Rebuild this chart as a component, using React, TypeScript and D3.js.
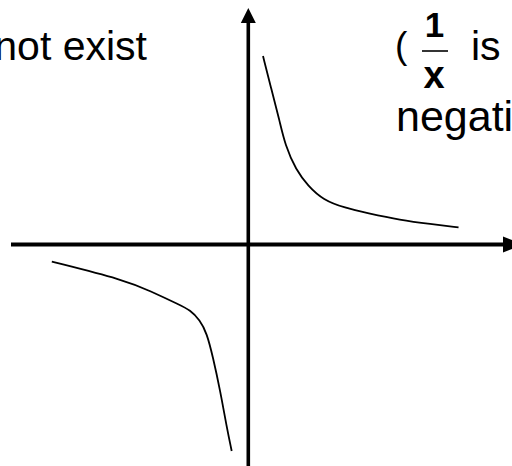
import React from "react";
import * as d3 from "d3";

// Curve samples (axis units)
const rightX = [0.62, 0.96, 1.31, 1.55, 2.01, 2.52, 3.15, 4.08, 5.0, 6.41, 7.67, 8.86];
const rightY = [7.94, 6.59, 5.25, 4.19, 3.14, 2.47, 1.88, 1.54, 1.33, 1.03, 0.86, 0.72];
const leftX = [-8.28, -5.2, -4.14, -2.88, -2.46, -2.04, -1.75, -1.49, -1.19, -0.91, -0.7];
const leftY = [-0.72, -1.5, -1.96, -2.55, -2.76, -3.18, -3.73, -4.74, -6.13, -7.69, -8.7];

const W = 512;
const H = 466;

export default function App() {
  const x = d3.scaleLinear().domain([-10, 10]).range([11, 485.6]);
  const y = d3.scaleLinear().domain([-10, 10]).range([481.8, 7.2]);
  const line = d3
    .line<[number, number]>()
    .x((d) => x(d[0]))
    .y((d) => y(d[1]))
    .curve(d3.curveBasis);
  const right = rightX.map((v, i) => [v, rightY[i]] as [number, number]);
  const left = leftX.map((v, i) => [v, leftY[i]] as [number, number]);
  const x0 = x(0);
  const y0 = y(0);
  const font = "'Liberation Sans', Arial, sans-serif";
  return (
    <svg
      width={W}
      height={H}
      style={{ position: "absolute", left: 0, top: 0, background: "#fff" }}
    >
      {/* horizontal axis */}
      <line x1={x(-10)} x2={504} y1={y0} y2={y0} stroke="#000" strokeWidth={4} />
      <polygon points={`503,${y0 - 8} 523,${y0} 503,${y0 + 8}`} fill="#000" />
      {/* vertical axis */}
      <line x1={x0} x2={x0} y1={22} y2={H} stroke="#000" strokeWidth={3.6} />
      <polygon points={`${x0 - 7.5},23 ${x0},8 ${x0 + 7.5},23`} fill="#000" />
      {/* curves */}
      <path d={line(right) || ""} fill="none" stroke="#000" strokeWidth={1.8} />
      <path d={line(left) || ""} fill="none" stroke="#000" strokeWidth={1.8} />
      {/* texts */}
      <text x={147} y={60} fontFamily={font} fontSize={41} textAnchor="end" fill="#000">
        not exist
      </text>
      <text x={395} y={58} fontFamily={font} fontSize={37} fill="#000">
        (
      </text>
      <text x={434.5} y={37} fontFamily={font} fontSize={35} fontWeight="bold" textAnchor="middle" fill="#000">
        1
      </text>
      <line x1={422} x2={448} y1={51} y2={51} stroke="#000" strokeWidth={1.6} />
      <text x={434} y={88} fontFamily={font} fontSize={38} fontWeight="bold" textAnchor="middle" fill="#000">
        x
      </text>
      <text x={471} y={60} fontFamily={font} fontSize={41} fill="#000">
        is
      </text>
      <text x={396} y={131} fontFamily={font} fontSize={43} fill="#000">
        negative
      </text>
    </svg>
  );
}
